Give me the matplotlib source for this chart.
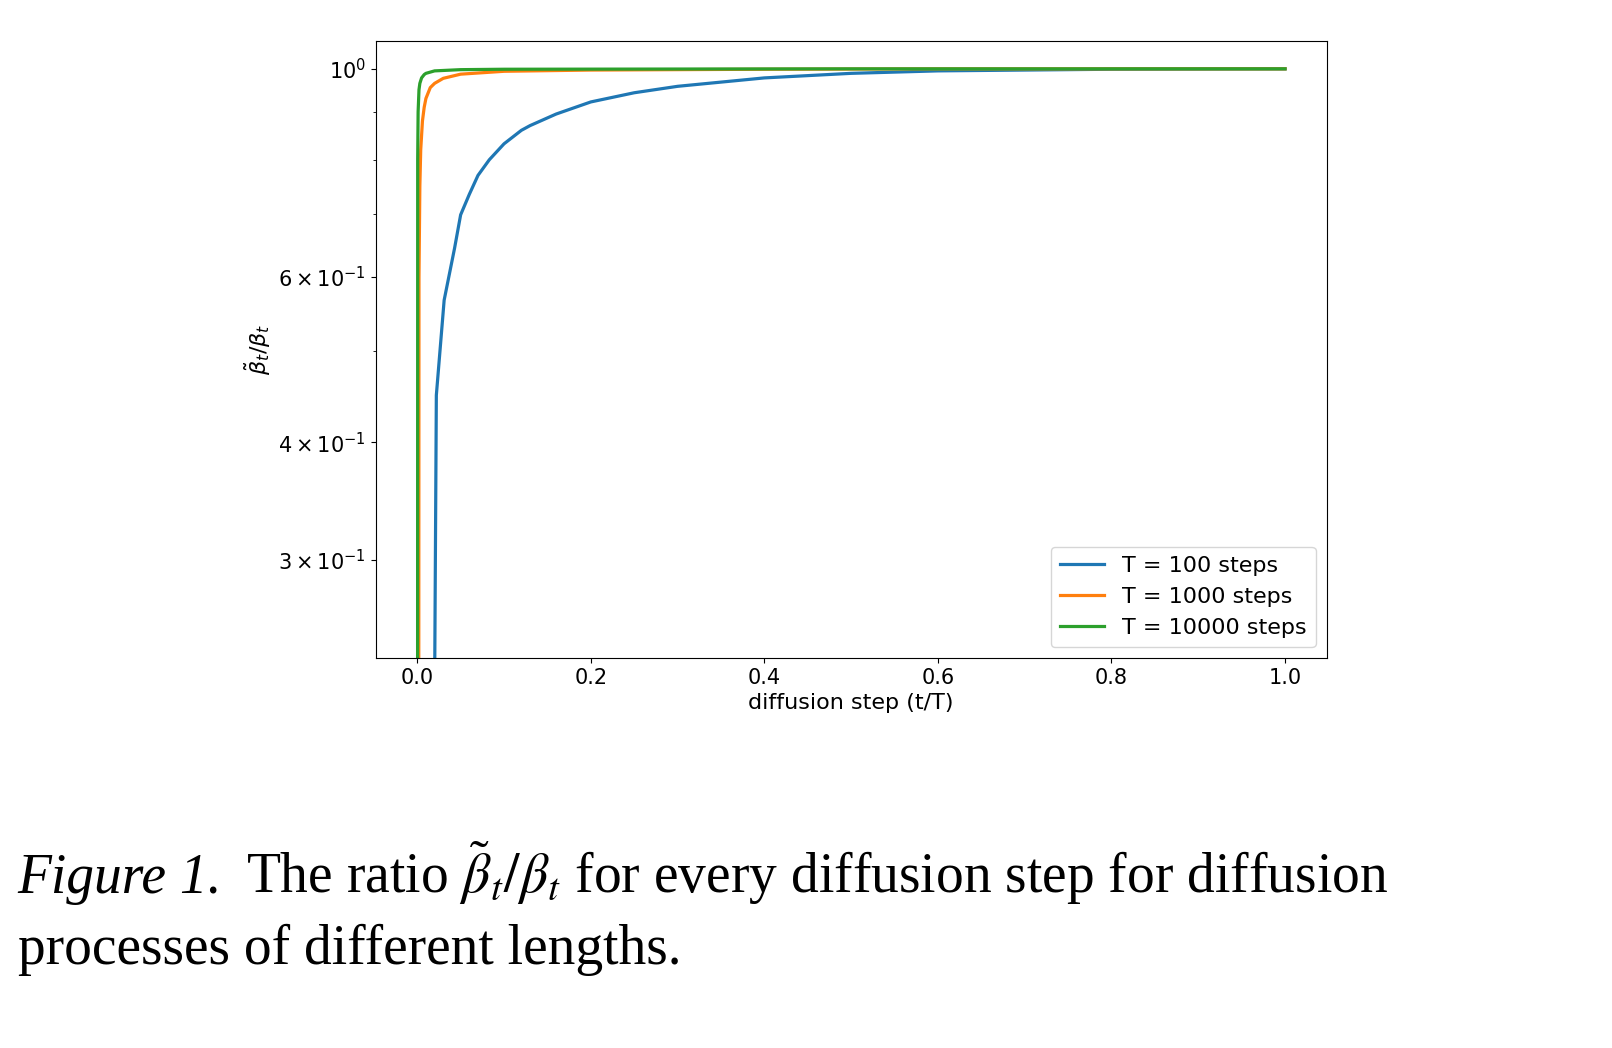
import matplotlib
matplotlib.use("Agg")
import matplotlib.pyplot as plt

# values (log y)
x_100 = [0.0115, 0.022, 0.031, 0.043, 0.050, 0.060, 0.070, 0.083, 0.100, 0.120, 0.130, 0.160, 0.200, 0.250, 0.300, 0.400, 0.500, 0.600, 0.800, 1.00]
y_100 = [0.01, 0.449, 0.567, 0.644, 0.699, 0.735, 0.770, 0.800, 0.832, 0.860, 0.870, 0.895, 0.922, 0.943, 0.958, 0.978, 0.989, 0.995, 0.999, 1.0]

x_1000 = [0.001, 0.002, 0.003, 0.004, 0.006, 0.008, 0.010, 0.015, 0.020, 0.030, 0.050, 0.10, 0.20, 0.40, 0.60, 1.00]
y_1000 = [0.01, 0.60, 0.75, 0.82, 0.88, 0.91, 0.93, 0.955, 0.965, 0.977, 0.987, 0.994, 0.997, 0.999, 1.0, 1.0]

x_10000 = [0.0001, 0.0005, 0.001, 0.002, 0.003, 0.005, 0.008, 0.010, 0.020, 0.050, 0.10, 0.50, 1.00]
y_10000 = [0.01, 0.80, 0.90, 0.95, 0.965, 0.978, 0.986, 0.989, 0.995, 0.998, 0.999, 1.0, 1.0]

labels = ["T = 100 steps", "T = 1000 steps", "T = 10000 steps"]

plt.rcParams["font.size"] = 15
fig = plt.figure(figsize=(16.12, 10.48), dpi=100)
ax = fig.add_axes([0.233, 0.372, 0.590, 0.589])

for xs, ys, lab in zip([x_100, x_1000, x_10000], [y_100, y_1000, y_10000], labels):
    ax.plot(xs, ys, lw=2.3, label=lab)

ax.set_yscale("log")
ax.set_ylim(0.2356, 1.071)
ax.set_xlim(-0.048, 1.048)
ax.set_yticks([1.0, 0.6, 0.4, 0.3])
ax.set_yticklabels([r"$10^{0}$", r"$6\times10^{-1}$", r"$4\times10^{-1}$", r"$3\times10^{-1}$"])
ax.set_xlabel("diffusion step (t/T)", fontsize=16)
ax.set_ylabel(r"$\tilde{\beta}_t/\beta_t$", fontsize=16)
ax.legend(loc="lower right", fontsize=16)

cap = dict(family="Liberation Serif", fontsize=40, math_fontfamily="stix")
t1 = fig.text(0.011, 0.148, "Figure 1.", style="italic", **cap)
fig.canvas.draw()
bb = t1.get_window_extent().transformed(fig.transFigure.inverted())
fig.text(bb.x1 + 0.015, 0.148,
         r"The ratio $\tilde{\beta}_t/\beta_t$ for every diffusion step for diffusion", **cap)
fig.text(0.011, 0.080, "processes of different lengths.", **cap)

fig.savefig("out.png", dpi=100)
